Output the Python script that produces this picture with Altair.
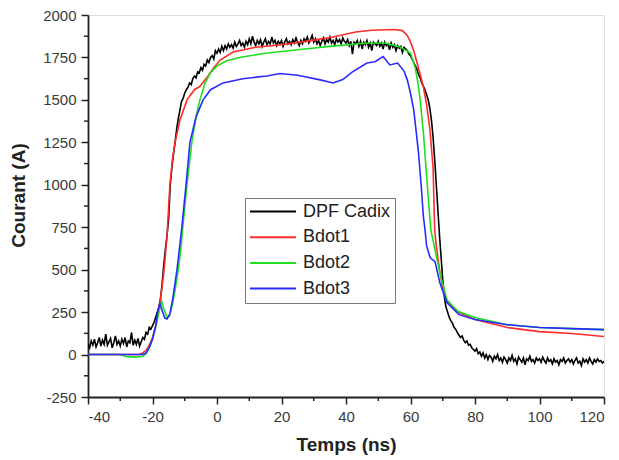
import altair as alt
import pandas as pd

series_names = ["DPF Cadix", "Bdot1", "Bdot2", "Bdot3"]
series_colors = ["#000000", "#ff2a2a", "#1ee01e", "#2a2aff"]

# DPF Cadix, sampled every 0.5 ns from -40 to 120
cadix_y = [
    60, 40, 80, 55, 90, 45, 70, 100, 50, 85, 60, 120, 55, 75, 95, 40, 70, 110, 60, 80,
    50, 90, 65, 100, 45, 80, 70, 130, 55, 85, 60, 95, 50, 75, 100, 90, 130, 120, 160, 150,
    170, 190, 220, 250, 280, 330, 420, 530, 620, 700, 800, 1000, 1100, 1180, 1250, 1330, 1390, 1440, 1490, 1510,
    1540, 1560, 1575, 1600, 1590, 1625, 1640, 1630, 1665, 1660, 1690, 1675, 1710, 1700, 1735, 1720, 1750, 1760, 1740, 1790,
    1775, 1800, 1780, 1815, 1790, 1820, 1800, 1830, 1810, 1825, 1805, 1840, 1815, 1830, 1850, 1820, 1835, 1810, 1845, 1825,
    1860, 1830, 1875, 1840, 1820, 1850, 1830, 1855, 1815, 1840, 1860, 1825, 1845, 1830, 1870, 1835, 1850, 1820, 1845, 1830,
    1850, 1815, 1840, 1860, 1830, 1845, 1825, 1855, 1835, 1865, 1840, 1820, 1850, 1830, 1860, 1845, 1870, 1835, 1855, 1880,
    1840, 1860, 1830, 1850, 1820, 1845, 1865, 1830, 1855, 1840, 1870, 1835, 1850, 1825, 1860, 1840, 1855, 1830, 1865, 1845,
    1835, 1855, 1820, 1845, 1770, 1840, 1830, 1850, 1815, 1845, 1800, 1840, 1825, 1850, 1810, 1835, 1790, 1840, 1830, 1820,
    1845, 1815, 1835, 1800, 1840, 1820, 1830, 1795, 1835, 1810, 1825, 1790, 1820, 1805, 1815, 1780, 1810, 1800, 1790, 1770,
    1760, 1740, 1720, 1700, 1680, 1650, 1630, 1600, 1580, 1560, 1530, 1500, 1450, 1380, 1280, 1150, 1000, 850, 700, 570,
    440, 340, 280, 250, 220, 200, 185, 160, 150, 130, 115, 100, 110, 85, 70, 80, 55, 60, 40, 30,
    20, 35, 5, 15, -10, 10, -20, 0, -30, -5, -15, -40, -10, -25, 0, -35, -20, -45, -15, -30,
    -50, -20, -35, -5, -40, -25, -55, -15, -30, -45, -20, -60, -25, -35, -10, -40, -30, -50, -20, -35,
    -25, -45, -15, -35, -50, -20, -40, -30, -55, -25, -45, -35, -60, -30, -40, -20, -50, -35, -25, -45,
    -30, -55, -35, -20, -50, -40, -65, -25, -45, -30, -50, -20, -40, -55, -30, -45, -25, -40, -35, -50,
    -40,
]
cadix_x = [-40 + 0.5 * i for i in range(len(cadix_y))]

bdot1_x = [-40, -24, -23, -22, -21, -20, -19, -18, -17, -16.3, -15.5, -14.6, -13.8, -13, -11.5, -9.3, -7, -5.3,
           -3, -1, 1, 5, 12, 20, 26, 31, 36, 43, 48, 55, 57.5, 59, 60, 61, 62, 63, 64, 65, 66, 67, 67.5, 68,
           69, 70, 71, 72, 75, 80, 90, 100, 110, 120]
bdot1_y = [0, 0, 10, 25, 55, 100, 170, 270, 400, 520, 700, 1000, 1150, 1250, 1380, 1500, 1560, 1580,
           1635, 1690, 1735, 1782, 1810, 1825, 1840, 1855, 1870, 1900, 1910, 1915, 1908, 1880, 1840, 1790, 1720, 1650, 1576, 1470, 1330, 1100, 735, 640,
           500, 390, 330, 295, 247, 206, 159, 135, 124, 106]

bdot2_x = [-40, -30, -28, -25, -23, -22, -21, -20, -19, -18, -17.2, -16.5, -15.5, -14.8, -14, -13, -12, -11.2,
           -10.6, -9.3, -7.8, -6.5, -5.3, -3.7, -2, 0, 3, 7, 15, 25, 35, 46.5, 52, 56.7, 60, 61.4, 62.3, 63, 64,
           65, 66.3, 67.6, 69.1, 71.3, 74.7, 80, 90, 100, 110, 120]
bdot2_y = [0, 0, -12, -15, -10, 5, 40, 90, 160, 250, 315, 270, 220, 225, 280, 380, 500, 620,
           750, 1000, 1250, 1400, 1500, 1600, 1660, 1700, 1730, 1750, 1775, 1795, 1815, 1835, 1835, 1812, 1776, 1694, 1600, 1500, 1306,
           1050, 735, 618, 482, 323, 255, 218, 176, 159, 153, 147]

bdot3_x = [-40, -23, -22, -21, -20, -19, -18.3, -17.7, -17, -16.2, -15.5, -14.6, -13.7, -12.4, -10.9, -9.6, -8.4,
           -6.5, -4.3, -2, 1.9, 8, 15.5, 19.5, 25, 32, 36, 39, 42, 46.5, 49, 51.5, 53.6, 56, 58, 59, 60, 61, 62.4,
           63.3, 64, 64.5, 65, 66.1, 67.6, 69.1, 71.3, 75, 80, 90, 100, 110, 120]
bdot3_y = [0, 0, 10, 40, 90, 170, 260, 300, 260, 215, 210, 240, 330, 500, 750, 1000, 1250,
           1400, 1500, 1560, 1600, 1625, 1641, 1655, 1645, 1618, 1600, 1620, 1665, 1717, 1725, 1755, 1706, 1717, 1670, 1618, 1540, 1441, 1206,
           1000, 812, 735, 640, 570, 547, 423, 306, 235, 206, 176, 159, 153, 147]

x_major = [-40, -20, 0, 20, 40, 60, 80, 100, 120]
x_minor = [-30, -10, 10, 30, 50, 70, 90, 110]
y_major = [-250, 0, 250, 500, 750, 1000, 1250, 1500, 1750, 2000]
y_minor = [-125, 125, 375, 625, 875, 1125, 1375, 1625, 1875]

frames = [
    pd.DataFrame({"t": cadix_x, "i": cadix_y, "s": series_names[0], "k": 0}),
    pd.DataFrame({"t": bdot1_x, "i": bdot1_y, "s": series_names[1], "k": 1}),
    pd.DataFrame({"t": bdot2_x, "i": bdot2_y, "s": series_names[2], "k": 2}),
    pd.DataFrame({"t": bdot3_x, "i": bdot3_y, "s": series_names[3], "k": 3}),
]
df = pd.concat(frames, ignore_index=True)

W, H = 516, 382
FONT = "Liberation Sans"
INK = "#222222"

xscale = alt.Scale(domain=[-40, 120], nice=False, zero=False)
yscale = alt.Scale(domain=[-250, 2000], nice=False, zero=False)

common_axis = dict(
    tickSize=7, tickWidth=1.5, domainWidth=1.8, domainColor=INK, tickColor=INK,
    labelFont=FONT, labelFontSize=15, labelColor="#3a3a3a", labelExpr="'' + datum.value",
    titleFont=FONT, titleFontSize=19, titleFontWeight="bold", titleColor=INK, grid=False,
)

lines = alt.Chart(df).mark_line(strokeWidth=1.6, interpolate="linear", clip=True).encode(
    x=alt.X("t:Q", scale=xscale, axis=alt.Axis(
        values=x_major, title="Temps (ns)", labelPadding=5, titleY=38, **common_axis)),
    y=alt.Y("i:Q", scale=yscale, axis=alt.Axis(
        values=y_major, title="Courant (A)", labelPadding=5, titleX=-60, titleY=180, **common_axis)),
    color=alt.Color("s:N", sort=series_names,
                    scale=alt.Scale(domain=series_names, range=series_colors),
                    legend=alt.Legend(
                        title=None, orient="none", legendX=157, legendY=183,
                        symbolType="stroke", symbolSize=2116, symbolStrokeWidth=2,
                        labelFont=FONT, labelFontSize=18, labelColor=INK,
                        strokeColor="#777", fillColor="white", padding=4,
                        clipHeight=19, rowPadding=6.7, labelOffset=6)),
    detail="k:O",
)

xminor = alt.Chart(pd.DataFrame({"t": x_minor})).mark_rule(color=INK, strokeWidth=1.5).encode(
    x=alt.X("t:Q", scale=xscale), y=alt.value(H), y2=alt.value(H + 4))
yminor = alt.Chart(pd.DataFrame({"i": y_minor})).mark_rule(color=INK, strokeWidth=1.5).encode(
    y=alt.Y("i:Q", scale=yscale), x=alt.value(0), x2=alt.value(-4))

chart = alt.layer(lines, xminor, yminor).properties(
    width=W, height=H, autosize=alt.AutoSizeParams(type="none"),
    padding={"left": 80, "top": 7, "right": 7, "bottom": 60},
).configure_view(stroke=None).configure(background="white")

chart.save("out.html", embed_options={"renderer": "svg", "actions": False})
